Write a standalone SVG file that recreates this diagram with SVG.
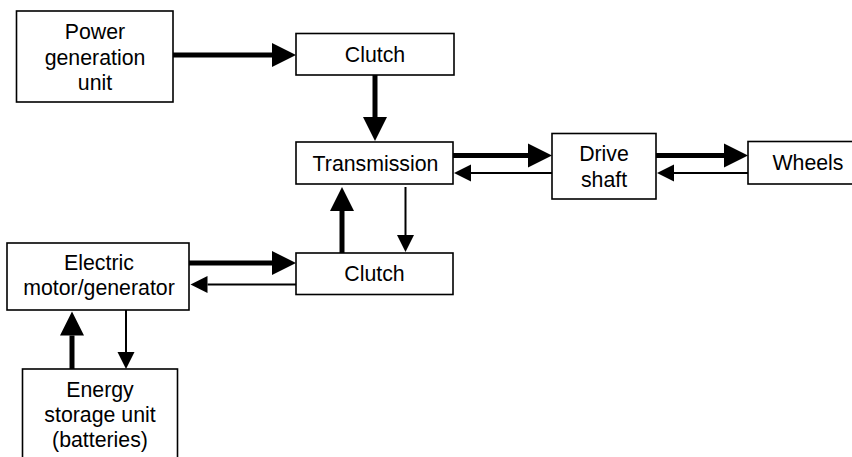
<svg xmlns="http://www.w3.org/2000/svg" width="852" height="457" viewBox="0 0 852 457">
  <style>
    .box { fill: #fff; stroke: #000; stroke-width: 1.6; }
    .lbl { font-family: "Liberation Sans", Arial, Helvetica, sans-serif; font-size: 21.3px; fill: #000; text-anchor: middle; }
    .thick { stroke: #000; stroke-width: 5; fill: none; marker-end: url(#headBig); }
    .thin { stroke: #000; stroke-width: 2; fill: none; marker-end: url(#headSmall); }
  </style>
  <defs>
    <!-- arrowheads start at the line end and point forward -->
    <marker id="headBig" markerUnits="userSpaceOnUse" markerWidth="26" markerHeight="26" viewBox="0 -13 26 26" refX="0" refY="0" orient="auto" overflow="visible">
      <path d="M0,-12 L24,0 L0,12 Z" fill="#000"/>
    </marker>
    <marker id="headSmall" markerUnits="userSpaceOnUse" markerWidth="20" markerHeight="20" viewBox="0 -10 20 20" refX="0" refY="0" orient="auto" overflow="visible">
      <path d="M0,-8.5 L17,0 L0,8.5 Z" fill="#000"/>
    </marker>
  </defs>

  <rect width="852" height="457" fill="#fff"/>

  <g id="connectors">
    <line class="thick" x1="173" y1="55" x2="272" y2="55"/>
    <line class="thick" x1="375" y1="75" x2="375" y2="117"/>
    <line class="thick" x1="453" y1="155.5" x2="528" y2="155.5"/>
    <line class="thin" x1="552" y1="173" x2="471" y2="173"/>
    <line class="thick" x1="656" y1="155.5" x2="724" y2="155.5"/>
    <line class="thin" x1="748" y1="173" x2="674" y2="173"/>
    <line class="thick" x1="342" y1="253" x2="342" y2="211"/>
    <line class="thin" x1="405.5" y1="187" x2="405.5" y2="235"/>
    <line class="thick" x1="189" y1="263" x2="272" y2="263"/>
    <line class="thin" x1="296" y1="284.5" x2="207.5" y2="284.5"/>
    <line class="thick" x1="72" y1="369" x2="72" y2="335.5"/>
    <line class="thin" x1="126" y1="310" x2="126" y2="352"/>
  </g>

  <g id="power-generation-unit">
    <rect class="box" x="16.5" y="11" width="156.5" height="91"/>
    <text class="lbl" x="95" y="39">Power</text>
    <text class="lbl" x="95" y="64.5">generation</text>
    <text class="lbl" x="95" y="90">unit</text>
  </g>

  <g id="clutch-upper">
    <rect class="box" x="296" y="33.5" width="158" height="41.5"/>
    <text class="lbl" x="375" y="61.5">Clutch</text>
  </g>

  <g id="transmission">
    <rect class="box" x="296" y="142" width="157" height="42"/>
    <text class="lbl" x="375.5" y="170.5">Transmission</text>
  </g>

  <g id="drive-shaft">
    <rect class="box" x="552" y="133.5" width="104" height="65.5"/>
    <text class="lbl" x="604" y="161">Drive</text>
    <text class="lbl" x="604" y="186.5">shaft</text>
  </g>

  <g id="wheels">
    <rect class="box" x="748" y="141.5" width="120" height="42.5"/>
    <text class="lbl" x="808" y="170">Wheels</text>
  </g>

  <g id="clutch-lower">
    <rect class="box" x="296" y="253" width="157" height="41.5"/>
    <text class="lbl" x="374.5" y="281">Clutch</text>
  </g>

  <g id="electric-motor-generator">
    <rect class="box" x="7" y="243" width="182" height="67"/>
    <text class="lbl" x="99" y="270">Electric</text>
    <text class="lbl" x="99" y="295">motor/generator</text>
  </g>

  <g id="energy-storage-unit">
    <rect class="box" x="22.5" y="369" width="155" height="100"/>
    <text class="lbl" x="100" y="397">Energy</text>
    <text class="lbl" x="100" y="422">storage unit</text>
    <text class="lbl" x="100" y="447">(batteries)</text>
  </g>
</svg>
